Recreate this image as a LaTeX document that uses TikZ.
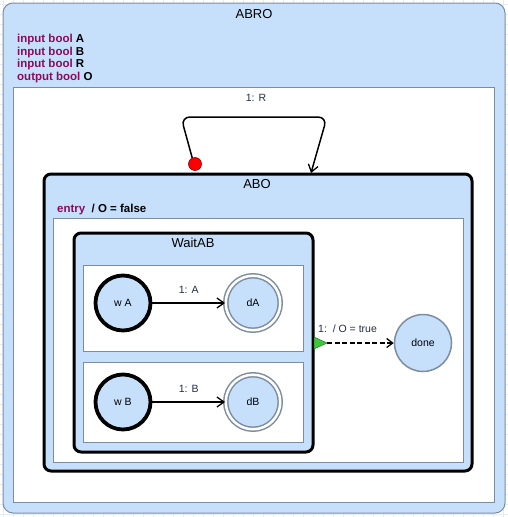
\documentclass[tikz,border=0pt]{standalone}
\usepackage{fontspec}
\setmainfont{Liberation Sans}
\usetikzlibrary{arrows.meta}
\definecolor{stfill}{RGB}{198,224,252}
\definecolor{stborder}{RGB}{125,141,160}
\definecolor{kw}{RGB}{140,10,90}
\definecolor{gridc}{RGB}{228,236,246}
\definecolor{trig}{RGB}{60,200,60}
\definecolor{lbl}{RGB}{35,45,70}
\begin{document}
\begin{tikzpicture}[x=1pt,y=-1pt,
  box/.style={anchor=north west,inner sep=0pt,outer sep=0pt},
  superstate/.style={box,draw=stborder,fill=stfill,line width=1pt,rounded corners=10pt},
  thickstate/.style={box,draw=black,fill=stfill,line width=3pt,rounded corners=7pt},
  region/.style={box,draw=stborder,fill=white,line width=1pt},
  title/.style={font=\fontsize{13}{15}\selectfont},
  decl/.style={anchor=base west,inner sep=0pt,font=\fontsize{11.5}{13}\selectfont\bfseries},
  simple/.style={circle,draw=black,fill=stfill,line width=3.8pt,minimum size=55pt,inner sep=0pt,font=\fontsize{10.5}{12}\selectfont},
  final/.style={circle,draw=stborder,double=white,double distance=2.5pt,line width=1.5pt,fill=stfill,minimum size=54.5pt,inner sep=0pt,font=\fontsize{10.5}{12}\selectfont},
  normal/.style={circle,draw=stborder,fill=stfill,line width=1.5pt,minimum size=57pt,inner sep=0pt,font=\fontsize{10.5}{12}\selectfont},
  trans/.style={line width=1.5pt,-{Straight Barb[length=7pt,width=10pt,line width=1.3pt]}},
  tlabel/.style={text=lbl,font=\fontsize{10.5}{12}\selectfont,inner sep=0pt}
]
\useasboundingbox (0,0) rectangle (508,517);
\foreach \gx in {3,13,...,503} \draw[gridc,line width=0.5pt] (\gx,0) -- (\gx,517);
\foreach \gy in {4,14,...,514} \draw[gridc,line width=0.5pt] (0,\gy) -- (508,\gy);

% ABRO
\node[superstate,minimum width=502pt,minimum height=510pt] (ABRO) at (3,3) {};
\node[title] (ABROt) at (254,14) {ABRO};
\node[decl] (d1) at (17,42.5) {\textcolor{kw}{input bool} A};
\node[decl] (d2) at (17,55.2) {\textcolor{kw}{input bool} B};
\node[decl] (d3) at (17,67.9) {\textcolor{kw}{input bool} R};
\node[decl] (d4) at (17,80.6) {\textcolor{kw}{output bool} O};
\node[region,minimum width=481pt,minimum height=415pt] (ABROr) at (13,87) {};

% ABO
\node[thickstate,minimum width=428pt,minimum height=297pt] (ABO) at (44,174) {};
\node[title] (ABOt) at (257,184) {ABO};
\node[decl] (entry) at (57,212) {\textcolor{kw}{entry}\ \ / O = false};
\node[region,minimum width=410pt,minimum height=244pt] (ABOr) at (53,218) {};

% WaitAB
\node[thickstate,minimum width=239pt,minimum height=219pt] (WaitAB) at (74,233) {};
\node[title] (WaitABt) at (193,243) {WaitAB};
\node[region,minimum width=220pt,minimum height=86pt] (r1) at (83,265) {};
\node[region,minimum width=220pt,minimum height=80pt] (r2) at (83,362) {};

% states
\node[simple] (wA) at (123,303) {w A};
\node[final] (dA) at (253,303) {dA};
\node[simple] (wB) at (123,402) {w B};
\node[final] (dB) at (253,402) {dB};
\node[normal] (done) at (423,343) {done};

\draw[trans] (wA) -- (dA) node[tlabel,midway,above=9pt] {1: A};
\draw[trans] (wB) -- (dB) node[tlabel,midway,above=9pt] {1: B};

% termination transition
\fill[trig,draw=trig!60!black,line width=0.5pt] (314,337) -- (327,343) -- (314,349) -- cycle;
\coordinate (trgtip) at (327,343);
\draw[dashed,dash pattern=on 5pt off 2.5pt,line width=1.5pt,-{Straight Barb[length=6pt,width=9pt,line width=1.3pt]}] (trgtip) -- (done.west);
\node[tlabel,anchor=base west] (tl) at (318,332) {1:\ \ / O = true};

% self loop on ABO
\coordinate (loopS) at (195,168);
\coordinate (loopE) at (311,173);
\draw[trans,rounded corners=9pt] (loopS) -- (181,117) -- (327,117) -- (loopE);
\node[circle,fill=red,draw=red!60!black,line width=0.6pt,minimum size=13pt,inner sep=0pt] (init) at (195,164) {};
\node[tlabel] (lR) at (256,98) {1: R};
\end{tikzpicture}
\end{document}
